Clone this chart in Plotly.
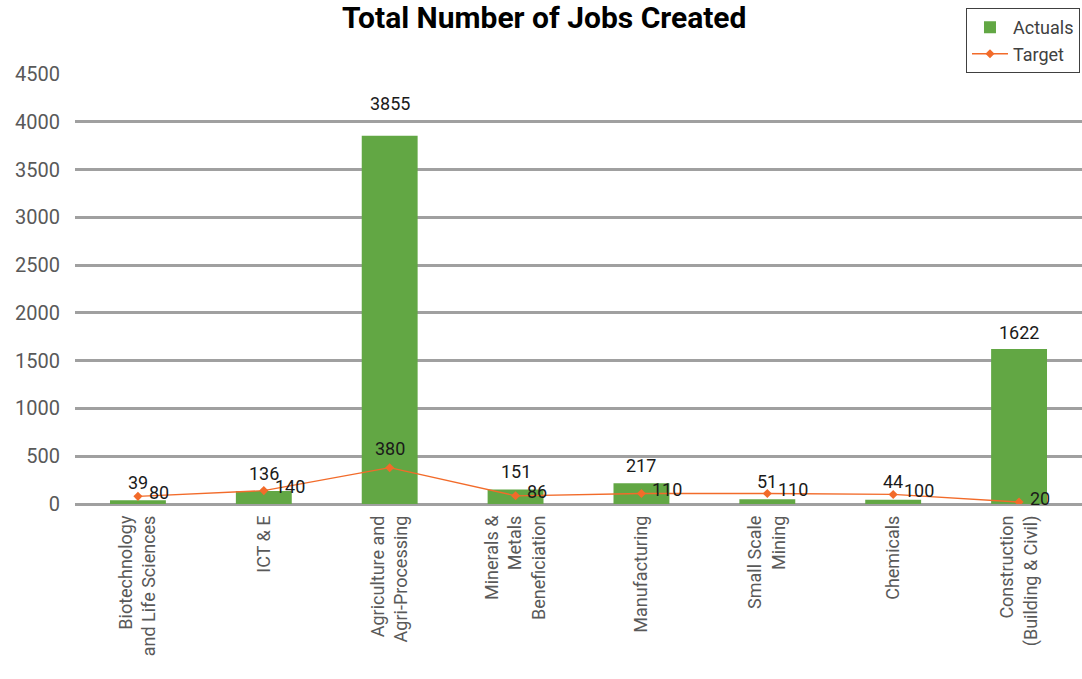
import plotly.graph_objects as go

categories = [
    "Biotechnology<br>and Life Sciences",
    "ICT & E",
    "Agriculture and<br>Agri-Processing",
    "Minerals &<br>Metals<br>Beneficiation",
    "Manufacturing",
    "Small Scale<br>Mining",
    "Chemicals",
    "Construction<br>(Building & Civil)",
]
actuals = [39, 136, 3855, 151, 217, 51, 44, 1622]
target = [80, 140, 380, 86, 110, 110, 100, 20]
y_ticks = [0, 500, 1000, 1500, 2000, 2500, 3000, 3500, 4000, 4500]

# label placement styling (pixels), not data
actual_label_shift = [18, 18, 32, 18, 18, 18, 18, 17]
target_label_above = [False, False, True, False, False, False, False, False]

green = "#62A744"
orange = "#F26B2A"
font_family = "Roboto, 'Noto Sans', sans-serif"
label_font = dict(size=18, color="#1a1a1a", family=font_family)

fig = go.Figure()
fig.add_trace(go.Bar(
    x=categories, y=actuals, name="Actuals",
    marker=dict(color=green, line=dict(width=0)),
))
fig.add_trace(go.Scatter(
    x=categories, y=target, name="Target", mode="lines+markers",
    line=dict(color=orange, width=1.3),
    marker=dict(symbol="diamond", size=7, color=orange),
))

annotations = []
for c, a, s in zip(categories, actuals, actual_label_shift):
    annotations.append(dict(
        x=c, y=a, xref="x", yref="y", text=str(a), showarrow=False,
        yanchor="middle", yshift=s, font=label_font,
    ))
for c, t, above in zip(categories, target, target_label_above):
    if above:
        annotations.append(dict(
            x=c, y=t, xref="x", yref="y", text=str(t), showarrow=False,
            xanchor="center", yanchor="middle", yshift=19, font=label_font,
        ))
    else:
        annotations.append(dict(
            x=c, y=t, xref="x", yref="y", text=str(t), showarrow=False,
            xanchor="left", yanchor="middle", xshift=9, yshift=4, font=label_font,
        ))

fig.update_layout(
    width=1082, height=679,
    margin=dict(l=75, r=0, t=74, b=175, autoexpand=False),
    paper_bgcolor="white", plot_bgcolor="white",
    font=dict(family=font_family, color="#595959"),
    title=dict(text="<b>Total Number of Jobs Created</b>", x=0.503, xanchor="center",
               y=0.974, yanchor="middle", font=dict(size=30, color="#000000", family=font_family)),
    bargap=0.556,
    showlegend=True,
    legend=dict(x=0.998, xref="paper", xanchor="right", y=0.988, yref="container", yanchor="top",
                bordercolor="#404040", borderwidth=1, bgcolor="white",
                font=dict(size=18, color="#404040", family=font_family),
                tracegroupgap=0, itemwidth=36),
    annotations=annotations,
    xaxis=dict(
        type="category", tickangle=-90, showgrid=False, showline=False,
        ticks="", tickfont=dict(size=18, color="#595959"), ticklabelstandoff=7,
        automargin=False,
    ),
    yaxis=dict(
        range=[0, 4500], tickvals=y_ticks, showgrid=True, gridcolor="#A0A0A0",
        gridwidth=2.5, zeroline=True, zerolinecolor="#A0A0A0", zerolinewidth=2.5,
        tickfont=dict(size=20, color="#595959"), ticks="", ticklabelstandoff=14,
        automargin=False,
    ),
)

fig.write_html("out.html", config={"displayModeBar": False},
               post_script="document.body.style.margin='0';")
